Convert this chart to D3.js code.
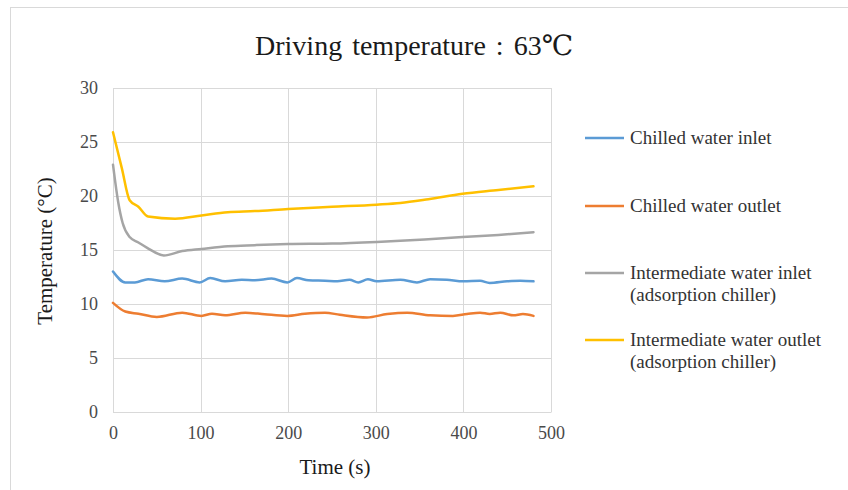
<!DOCTYPE html>
<html>
<head>
<meta charset="utf-8">
<script src="https://cdn.jsdelivr.net/npm/d3@7"></script>
<style>
  body { margin: 0; background: #fff; }
  svg { font-family: "Liberation Serif", "DejaVu Serif", serif; }
</style>
</head>
<body>
<svg id="chart" width="848" height="490"></svg>
<script>
// series values (time in s, temperature in degC)
var inletTime = [0, 14, 25, 40, 59, 79, 99, 111, 128, 147, 162, 181, 199, 210, 223, 242, 256, 270, 280, 291, 301, 328, 347, 362, 381, 400, 419, 430, 450, 465, 480];
var inletTemp = [13.0, 12.0, 12.0, 12.3, 12.1, 12.35, 12.0, 12.4, 12.1, 12.25, 12.2, 12.35, 12.0, 12.4, 12.2, 12.15, 12.1, 12.25, 12.0, 12.3, 12.1, 12.25, 12.0, 12.3, 12.25, 12.1, 12.15, 11.95, 12.1, 12.15, 12.1];

var outletTime = [0, 14, 29, 50, 79, 101, 113, 128, 151, 173, 199, 219, 242, 259, 290, 313, 336, 362, 388, 404, 419, 430, 442, 457, 468, 480];
var outletTemp = [10.1, 9.3, 9.1, 8.8, 9.2, 8.9, 9.1, 8.95, 9.2, 9.05, 8.9, 9.1, 9.2, 9.0, 8.75, 9.07, 9.2, 8.95, 8.9, 9.07, 9.2, 9.07, 9.2, 8.95, 9.07, 8.9];

var midInTime = [0, 6, 11, 19, 29, 39, 58, 79, 101, 131, 162, 200, 250, 301, 328, 360, 399, 440, 480];
var midInTemp = [22.9, 19.4, 17.5, 16.2, 15.7, 15.2, 14.5, 14.9, 15.1, 15.35, 15.45, 15.55, 15.6, 15.75, 15.85, 16.0, 16.2, 16.4, 16.65];

var midOutTime = [0, 10, 19, 29, 40, 71, 101, 131, 162, 200, 250, 301, 328, 360, 399, 440, 480];
var midOutTemp = [25.9, 22.6, 19.6, 19.0, 18.1, 17.9, 18.2, 18.5, 18.6, 18.8, 19.0, 19.2, 19.35, 19.7, 20.2, 20.55, 20.9];

var seriesNames = ["Chilled water inlet", "Chilled water outlet", "Intermediate water inlet\n(adsorption chiller)", "Intermediate water outlet\n(adsorption chiller)"];
var seriesColors = ["#5B9BD5", "#ED7D31", "#A5A5A5", "#FFC000"];

var xTicks = [0, 100, 200, 300, 400, 500];
var yTicks = [0, 5, 10, 15, 20, 25, 30];

var svg = d3.select("#chart");

// outer frame
svg.append("rect")
    .attr("x", 10.5).attr("y", 7.5)
    .attr("width", 900).attr("height", 600)
    .attr("fill", "none")
    .attr("stroke", "#d9d9d9");

var x = d3.scaleLinear().domain([0, 500]).range([113, 551]);
var y = d3.scaleLinear().domain([0, 30]).range([412, 88]);

// gridlines
svg.append("g").selectAll("line.h")
    .data(yTicks)
    .enter().append("line")
    .attr("x1", x(0)).attr("x2", x(500))
    .attr("y1", function(d) { return Math.round(y(d)) + 0.5; })
    .attr("y2", function(d) { return Math.round(y(d)) + 0.5; })
    .attr("stroke", "#d9d9d9");

svg.append("g").selectAll("line.v")
    .data(xTicks)
    .enter().append("line")
    .attr("y1", y(0)).attr("y2", y(30))
    .attr("x1", function(d) { return Math.round(x(d)) + 0.5; })
    .attr("x2", function(d) { return Math.round(x(d)) + 0.5; })
    .attr("stroke", "#d9d9d9");

// axes (labels only)
var xAxis = svg.append("g")
    .attr("transform", "translate(0," + y(0) + ")")
    .call(d3.axisBottom(x).tickValues(xTicks).tickSize(0).tickPadding(14));
var yAxis = svg.append("g")
    .attr("transform", "translate(" + x(0) + ",0)")
    .call(d3.axisLeft(y).tickValues(yTicks).tickSize(0).tickPadding(15));

[xAxis, yAxis].forEach(function(g) {
    g.select(".domain").attr("stroke", "#d9d9d9");
    g.selectAll("text")
        .style("font-family", "Liberation Serif")
        .style("font-size", "18px")
        .attr("fill", "#4a4a4a");
});

// lines
var line = d3.line()
    .x(function(d) { return x(d[0]); })
    .y(function(d) { return y(d[1]); })
    .curve(d3.curveMonotoneX);

var allSeries = [
    d3.zip(inletTime, inletTemp),
    d3.zip(outletTime, outletTemp),
    d3.zip(midInTime, midInTemp),
    d3.zip(midOutTime, midOutTemp)
];

svg.append("g").selectAll("path")
    .data(allSeries)
    .enter().append("path")
    .attr("d", line)
    .attr("fill", "none")
    .attr("stroke", function(d, i) { return seriesColors[i]; })
    .attr("stroke-width", 2.5)
    .attr("stroke-linejoin", "round")
    .attr("stroke-linecap", "round");

// title
svg.append("text")
    .attr("x", 414).attr("y", 55)
    .attr("text-anchor", "middle")
    .style("font-size", "28px")
    .style("word-spacing", "3px")
    .attr("fill", "#1a1a1a")
    .text("Driving temperature : 63\u2103");

// axis titles
svg.append("text")
    .attr("x", 335).attr("y", 474)
    .attr("text-anchor", "middle")
    .style("font-size", "21px")
    .attr("fill", "#1a1a1a")
    .text("Time (s)");

svg.append("text")
    .attr("transform", "translate(52,251) rotate(-90)")
    .attr("text-anchor", "middle")
    .style("font-size", "21px")
    .attr("fill", "#1a1a1a")
    .text("Temperature (\u00b0C)");

// legend
var legendY = [138, 206, 273, 340];
var legend = svg.append("g").selectAll("g")
    .data(seriesNames)
    .enter().append("g")
    .attr("transform", function(d, i) { return "translate(585," + legendY[i] + ")"; });

legend.append("line")
    .attr("x1", 0).attr("x2", 39)
    .attr("stroke", function(d, i) { return seriesColors[i]; })
    .attr("stroke-width", 2.5);

legend.append("text")
    .attr("x", 45)
    .style("font-size", "19px")
    .attr("fill", "#333333")
    .selectAll("tspan")
    .data(function(d) { return d.split("\n"); })
    .enter().append("tspan")
    .attr("x", 45)
    .attr("dy", function(d, i) { return i === 0 ? "0.32em" : "22px"; })
    .text(function(d) { return d; });
</script>
</body>
</html>
